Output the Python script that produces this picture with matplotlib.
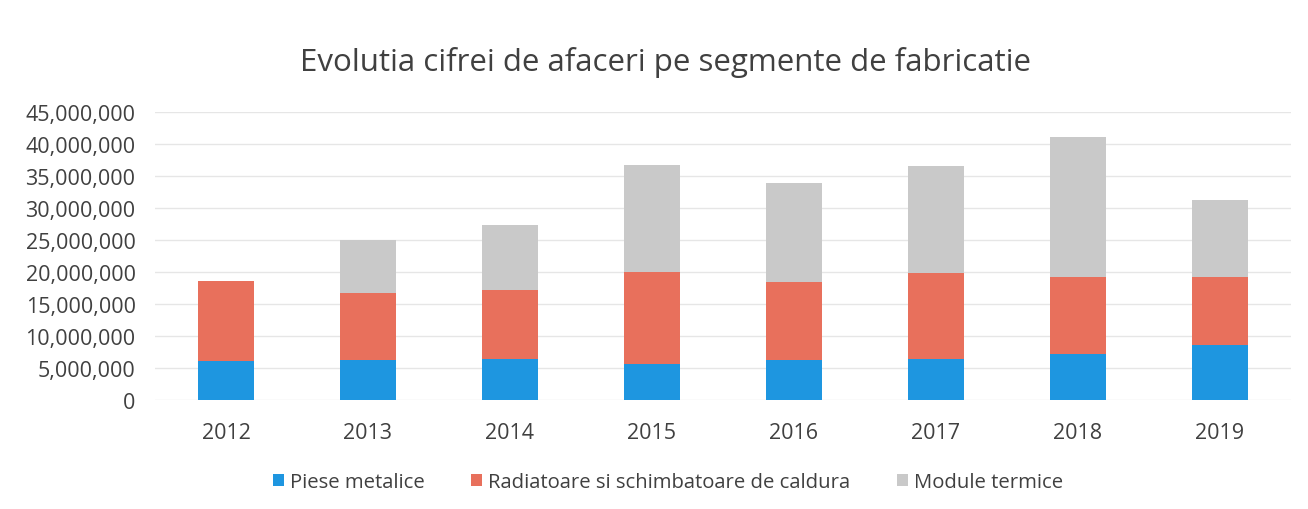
import matplotlib
matplotlib.use("Agg")
import matplotlib.pyplot as plt
from matplotlib.ticker import FuncFormatter, MultipleLocator
import numpy as np

years = ["2012", "2013", "2014", "2015", "2016", "2017", "2018", "2019"]
piese_metalice = [6.1e6, 6.25e6, 6.35e6, 5.6e6, 6.25e6, 6.45e6, 7.15e6, 8.6e6]
radiatoare_top = [18.6e6, 16.7e6, 17.2e6, 19.95e6, 18.5e6, 19.8e6, 19.2e6, 19.2e6]
total_top = [18.6e6, 25.05e6, 27.35e6, 36.75e6, 33.9e6, 36.5e6, 41.1e6, 31.2e6]

radiatoare = [r - p for r, p in zip(radiatoare_top, piese_metalice)]
module = [t - r for t, r in zip(total_top, radiatoare_top)]

labels = ["Piese metalice", "Radiatoare si schimbatoare de caldura", "Module termice"]
colors = ["#1E96E0", "#E8705C", "#C9C9C9"]

plt.rcParams['font.family'] = ['Open Sans', 'DejaVu Sans']
text_color = "#404040"

fig = plt.figure(figsize=(13.08, 5.10), dpi=100)
ax = fig.add_axes([155/1308, 1 - 401/510, (1291 - 155)/1308, (401 - 113)/510])

x = np.arange(len(years))
w = 0.4
ax.bar(x, piese_metalice, w, color=colors[0], label=labels[0], zorder=3)
ax.bar(x, radiatoare, w, bottom=piese_metalice, color=colors[1], label=labels[1], zorder=3)
ax.bar(x, module, w, bottom=radiatoare_top, color=colors[2], label=labels[2], zorder=3)

ax.set_xlim(-0.5, len(years) - 0.5)
ax.set_ylim(0, 45e6)
ax.yaxis.set_major_locator(MultipleLocator(5e6))
ax.yaxis.set_major_formatter(FuncFormatter(lambda v, p: f"{int(v):,}"))
ax.set_xticks(x)
ax.set_xticklabels(years)
ax.grid(axis='y', color="#E6E6E6", linewidth=1, zorder=0)
for s in ax.spines.values():
    s.set_visible(False)
ax.tick_params(axis='both', length=0, labelsize=15.5, colors=text_color)
ax.tick_params(axis='y', pad=14)
ax.tick_params(axis='x', pad=16)

fig.text(665/1308, 1 - 62/510, "Evolutia cifrei de afaceri pe segmente de fabricatie",
         ha='center', va='center', fontsize=22.5, color=text_color)

handles, lbls = ax.get_legend_handles_labels()
leg = fig.legend(handles, lbls, loc='center', bbox_to_anchor=(668/1308, 1 - 483/510),
                 ncol=3, frameon=False, fontsize=14.6, handlelength=0.55, handleheight=0.55,
                 handletextpad=0.3, columnspacing=2.3)
for t in leg.get_texts():
    t.set_color(text_color)

fig.savefig("out.png", dpi=100, facecolor="white")
